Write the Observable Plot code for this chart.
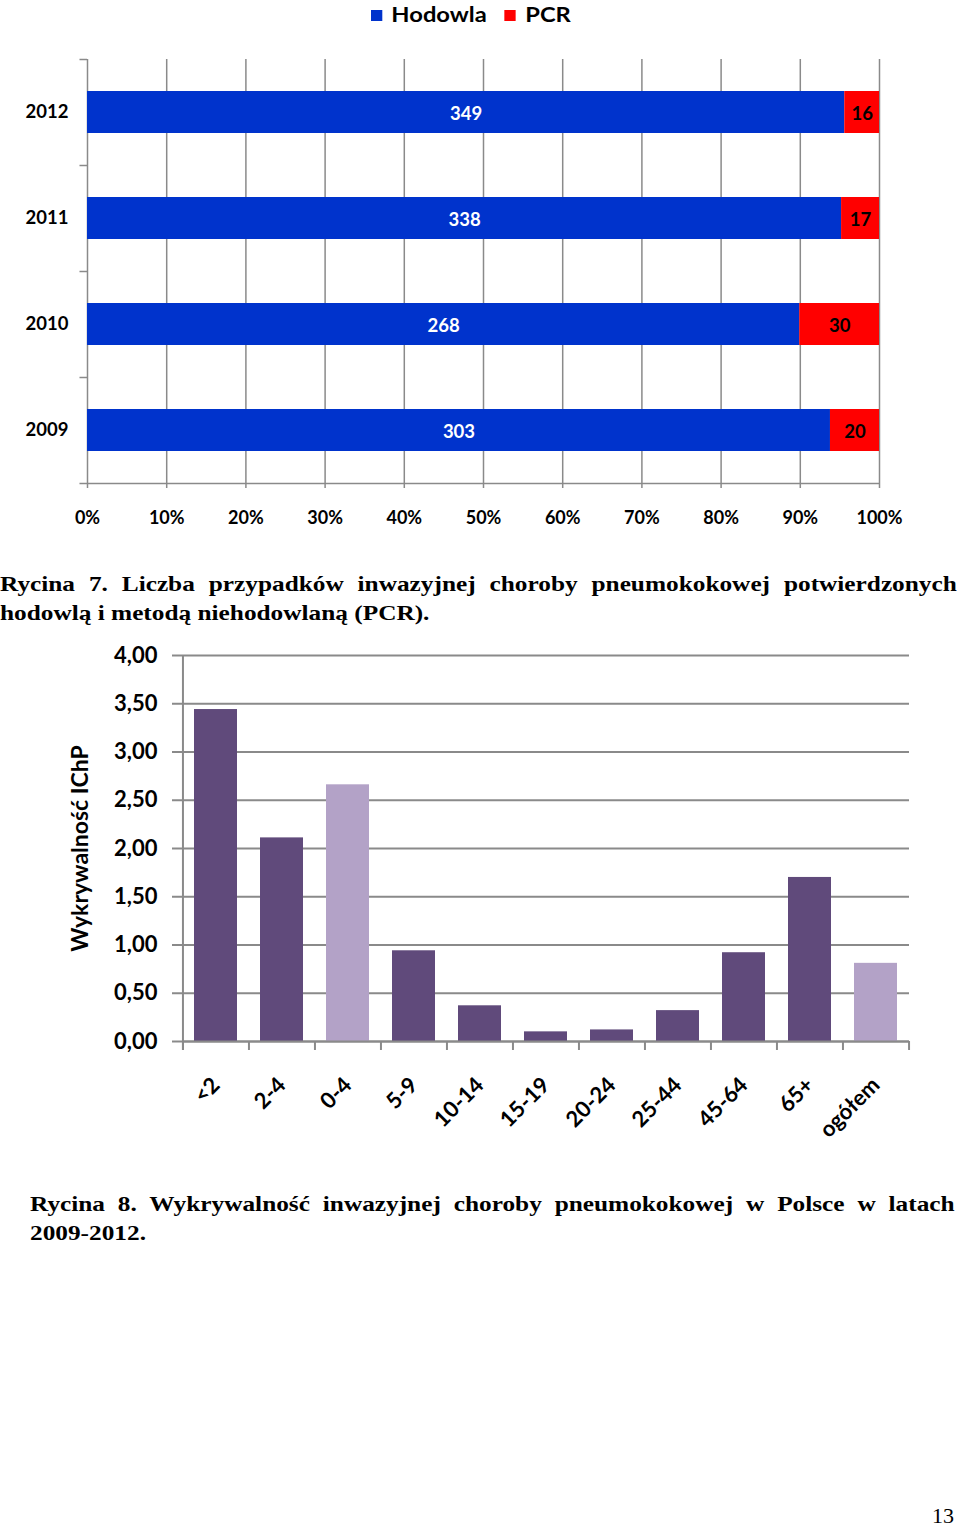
<!DOCTYPE html>
<html>
<head>
<meta charset="utf-8">
<script src="https://cdn.jsdelivr.net/npm/d3@7"></script>
<script src="https://cdn.jsdelivr.net/npm/@observablehq/plot@0.6"></script>
<style>
  body { margin: 0; background: #fff; }
  #page { position: relative; width: 960px; height: 1527px; overflow: hidden; background: #fff; }
  .abs { position: absolute; }
  .chartfont { font-family: Lato, "Open Sans", sans-serif; font-weight: bold; color: #000; }
  .cap { font-family: "Liberation Serif", "Times New Roman", serif; font-weight: bold; font-size: 22px; line-height: 29px; color: #000; transform: scaleX(1.15); transform-origin: left top; }
  .just { text-align: justify; text-align-last: justify; }
  .sw { display: inline-block; width: 10px; height: 11px; vertical-align: middle; margin-right: 8px; position: relative; top: -1px; }
</style>
</head>
<body>
<div id="page">
  <div id="legend" class="abs chartfont" style="left:371px; top:0px; height:28px; line-height:28px; font-size:21px; white-space:nowrap; transform:scaleX(1.13); transform-origin:left top;"></div>
  <div id="chart1" class="abs" style="left:0; top:40px;"></div>
  <div class="abs cap" style="left:0; top:569px; width:832px;">
    <div class="just">Rycina 7. Liczba przypadków inwazyjnej choroby pneumokokowej potwierdzonych</div>
    <div>hodowlą i metodą niehodowlaną (PCR).</div>
  </div>
  <div id="chart2" class="abs" style="left:0; top:640px;"></div>
  <div class="abs cap" style="left:30px; top:1189px; width:804px;">
    <div class="just">Rycina 8. Wykrywalność inwazyjnej choroby pneumokokowej w Polsce w latach</div>
    <div>2009-2012.</div>
  </div>
  <div class="abs" style="left:932px; top:1501px; font-family:'Liberation Serif','Times New Roman',serif; font-size:22px; line-height:29px;">13</div>
</div>
<script>
// ---- Data: chart 1 (Rycina 7) ----
const years = ["2012", "2011", "2010", "2009"];
const hodowla = [349, 338, 268, 303];
const pcr = [16, 17, 30, 20];
const methods = ["Hodowla", "PCR"];
const methodColors = ["#0033CC", "#FF0000"];
const pctTicks = [0, 10, 20, 30, 40, 50, 60, 70, 80, 90, 100];

// ---- Data: chart 2 (Rycina 8) ----
const ageGroups = ["<2", "2-4", "0-4", "5-9", "10-14", "15-19", "20-24", "25-44", "45-64", "65+", "ogółem"];
const rates = [3.44, 2.11, 2.66, 0.94, 0.37, 0.10, 0.12, 0.32, 0.92, 1.70, 0.81];
const summaryGroups = ["0-4", "ogółem"];
const rateTicks = [0, 0.5, 1, 1.5, 2, 2.5, 3, 3.5, 4];
const yTitle = "Wykrywalność IChP";

const gridColor = "#8a8a8a";
const darkPurple = "#604A7B";
const lightPurple = "#B3A2C7";

// Legend
const legend = document.getElementById("legend");
methods.forEach((m, i) => {
  const span = document.createElement("span");
  span.style.marginRight = i === 0 ? "16px" : "0";
  span.innerHTML = `<span class="sw" style="background:${methodColors[i]}"></span>${m}`;
  legend.appendChild(span);
});

// Chart 1
const rows1 = [];
methods.forEach((m, mi) => {
  const vals = mi === 0 ? hodowla : pcr;
  years.forEach((y, i) => rows1.push({ year: y, method: m, count: vals[i] }));
});
const pctDomain = pctTicks.map(p => p / 100);

const chart1 = Plot.plot({
  width: 960,
  height: 505,
  marginTop: 19,
  marginBottom: 62,
  marginLeft: 87,
  marginRight: 81,
  style: { fontFamily: "Lato, 'Open Sans', sans-serif", fontWeight: "bold", fontSize: "18px", color: "#000", background: "transparent" },
  x: { domain: [0, 1] },
  y: { domain: years, paddingInner: 0.6, paddingOuter: 0.3 },
  color: { domain: methods, range: methodColors },
  marks: [
    Plot.gridX(pctDomain, { stroke: gridColor, strokeOpacity: 1, strokeWidth: 1.5 }),
    Plot.barX(rows1, { x: "count", y: "year", fill: "method", offset: "normalize" }),
    Plot.ruleY(years, { y: d => d, x1: -0.0095, x2: 0, dy: -53, stroke: gridColor, strokeWidth: 1.5 }),
    Plot.ruleY(years.slice(-1), { y: d => d, x1: -0.0095, x2: 1, dy: 53, stroke: gridColor, strokeWidth: 1.5 }),
    Plot.axisX(pctDomain, { tickFormat: d => Math.round(d * 100) + "%", tickSize: 5, tickPadding: 23, stroke: gridColor, strokeWidth: 1.5, fill: "#000", fontSize: 18, fontWeight: "bold", label: null }),
    Plot.axisY({ tickSize: 0, tickPadding: 19, fontSize: 18.5, fontWeight: "bold", fill: "#000", label: null }),
    Plot.text(rows1, Plot.stackX({ x: "count", y: "year", z: "method", offset: "normalize",
      text: d => d.method === "Hodowla" ? String(d.count) : null, fill: "white", fontSize: 18.5, fontWeight: "bold", dy: 2 })),
    Plot.text(rows1, Plot.stackX({ x: "count", y: "year", z: "method", offset: "normalize",
      text: d => d.method === "PCR" ? String(d.count) : null, fill: "black", fontSize: 18.5, fontWeight: "bold", dy: 2 }))
  ]
});
document.getElementById("chart1").appendChild(chart1);

// Chart 2
const rows2 = ageGroups.map((g, i) => ({ group: g, rate: rates[i], kind: summaryGroups.includes(g) ? "summary" : "age" }));
const halfStep = 33.05;
const chart2 = Plot.plot({
  width: 960,
  height: 530,
  marginTop: 15,
  marginBottom: 129,
  marginLeft: 182,
  marginRight: 51,
  style: { fontFamily: "Lato, 'Open Sans', sans-serif", fontWeight: "bold", fontSize: "21px", color: "#000", background: "transparent" },
  x: { domain: ageGroups, paddingInner: 0.35, paddingOuter: 0.175 },
  y: { domain: [0, 4] },
  color: { domain: ["age", "summary"], range: [darkPurple, lightPurple] },
  marks: [
    Plot.gridY(rateTicks, { stroke: gridColor, strokeOpacity: 1, strokeWidth: 2 }),
    Plot.barY(rows2, { x: "group", y: "rate", fill: "kind" }),
    Plot.ruleY([0], { stroke: gridColor, strokeWidth: 2 }),
    Plot.ruleX(ageGroups.slice(0, 1), { x: d => d, dx: -halfStep, y1: -0.093, y2: 4, stroke: gridColor, strokeWidth: 2 }),
    Plot.ruleX(ageGroups, { x: d => d, dx: -halfStep, y1: 0, y2: -0.093, stroke: gridColor, strokeWidth: 2 }),
    Plot.ruleX(ageGroups.slice(-1), { x: d => d, dx: halfStep, y1: 0, y2: -0.093, stroke: gridColor, strokeWidth: 2 }),
    Plot.axisY(rateTicks, { tickFormat: d => d.toFixed(2).replace(".", ","), tickSize: 10, tickPadding: 15, stroke: gridColor, strokeWidth: 2, fill: "#000", fontSize: 22, fontWeight: "bold", label: null }),
    Plot.axisX({ tickSize: 0, tickRotate: -45, tickPadding: 40, fill: "#000", fontSize: 22, fontWeight: "bold", label: null }),
    Plot.text([yTitle], { text: d => d, frameAnchor: "left", textAnchor: "middle", rotate: -90, dx: -102, fontSize: 23, fontWeight: "bold", fill: "#000" })
  ]
});
document.getElementById("chart2").appendChild(chart2);
</script>
</body>
</html>
